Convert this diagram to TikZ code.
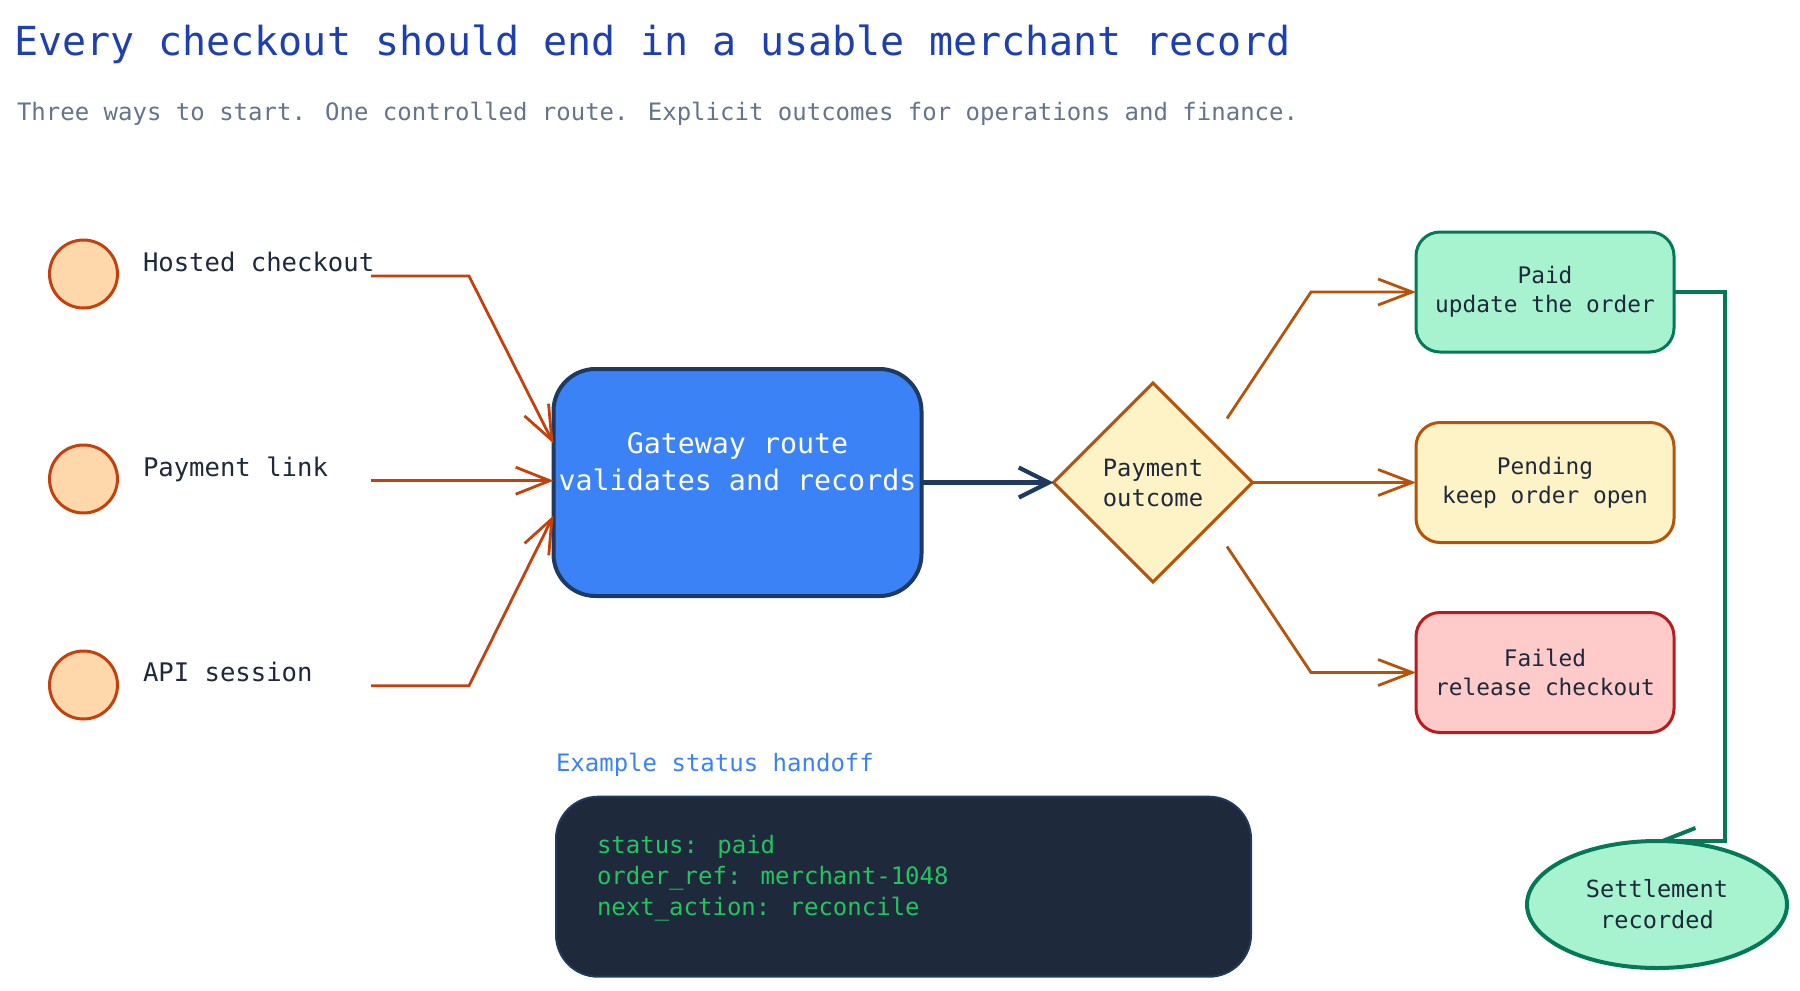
\documentclass[tikz,border=0pt]{standalone}
\usepackage{fontspec}
\setmainfont{DejaVu Sans Mono}
\usetikzlibrary{arrows.meta,shapes.geometric,calc}
\pgfdeclarelayer{bg}
\pgfdeclarelayer{edges}
\pgfsetlayers{bg,edges,main}
\definecolor{cTitle}{HTML}{1E40AF}
\definecolor{cSub}{HTML}{64748B}
\definecolor{cText}{HTML}{1E293B}
\definecolor{cSrc}{HTML}{C2410C}
\definecolor{cSrcFill}{HTML}{FED7AA}
\definecolor{cBlue}{HTML}{3B82F6}
\definecolor{cNavy}{HTML}{1E3A5F}
\definecolor{cAmber}{HTML}{B45309}
\definecolor{cAmberFill}{HTML}{FEF3C7}
\definecolor{cGreen}{HTML}{047857}
\definecolor{cGreenFill}{HTML}{A7F3D0}
\definecolor{cRed}{HTML}{B91C1C}
\definecolor{cRedFill}{HTML}{FECACA}
\definecolor{cCode}{HTML}{1E293B}
\definecolor{cCodeText}{HTML}{22C55E}
\newcommand\setfs[2]{\fontsize{#1}{#2}\selectfont}
\tikzset{
  every node/.style={inner sep=0pt, outer sep=0pt},
  src/.style={circle, minimum size=68pt, fill=cSrcFill, draw=cSrc, line width=3pt},
  srclabel/.style={anchor=base west, text=cText, font=\setfs{25.6}{30}},
  inarrow/.style={draw=cSrc, line width=2.8pt, line join=miter, -{Straight Barb[length=34pt,width=27pt]}},
  outarrow/.style={draw=cAmber, line width=2.8pt, -{Straight Barb[length=34pt,width=26pt]}},
  mainarrow/.style={draw=cNavy, line width=4.2pt, -{Straight Barb[length=30pt,width=30pt]}},
  greenarrow/.style={draw=cGreen, line width=4pt, -{Straight Barb[length=33pt,width=26pt]}},
  gwbox/.style={rectangle, rounded corners=42pt, minimum width=368pt, minimum height=227pt, fill=cBlue, draw=cNavy, line width=4pt},
  gwtext/.style={anchor=base, align=center, text=white, font=\setfs{28.3}{36.7}},
  decision/.style={diamond, aspect=1, minimum width=199pt, minimum height=199pt, fill=cAmberFill, draw=cAmber, line width=3pt, align=center, text=cText, font=\setfs{23.8}{30}},
  outbox/.style={rectangle, rounded corners=24pt, minimum width=258pt, minimum height=120pt, line width=3pt, align=center, text=cText, font=\setfs{22.8}{29.4}},
  endell/.style={ellipse, minimum width=260pt, minimum height=127pt, fill=cGreenFill, draw=cGreen, line width=4pt, align=center, text=cText, font=\setfs{23.6}{31}},
  codebox/.style={rectangle, rounded corners=42pt, minimum width=695pt, minimum height=180pt, fill=cCode, draw=cNavy, line width=2pt},
  codetext/.style={anchor=base west, align=left, text=cCodeText, font=\setfs{24}{31}},
}
\begin{document}
\begin{tikzpicture}[x=1pt,y=-1pt]
\begin{pgfonlayer}{bg}
\fill[white] (0,0) rectangle (1800,991);
\end{pgfonlayer}
\useasboundingbox (0,0) rectangle (1800,991);

\node[anchor=base west, text=cTitle, font=\setfs{40}{48}] (title) at (14,55) {Every checkout should end in a usable merchant record};
\node[anchor=base west, text=cSub, font=\setfs{24}{30}] (subtitle) at (17,120.5) {Three ways to start. One controlled route. Explicit outcomes for operations and finance.};

% sources
\node[src] (c1) at (83.5,274) {};
\node[src] (c2) at (83.5,479) {};
\node[src] (c3) at (83.5,685) {};
\node[srclabel] (l1) at (143,271) {Hosted checkout};
\node[srclabel] (l2) at (143,476) {Payment link};
\node[srclabel] (l3) at (143,681) {API session};

% gateway
\node[gwbox] (gw) at (737.5,482.5) {};
\node[gwtext] (gwt) at (737.5,490) {Gateway route\\validates and records};

% decision
\node[decision] (dia) at (1153,482.5) {Payment\\outcome};

% outcomes
\node[outbox, fill=cGreenFill, draw=cGreen] (paid) at (1545,292) {Paid\\update the order};
\node[outbox, fill=cAmberFill, draw=cAmber] (pend) at (1545,482.5) {Pending\\keep order open};
\node[outbox, fill=cRedFill, draw=cRed] (fail) at (1545,672.5) {Failed\\release checkout};

\node[endell] (settle) at (1657,904.5) {Settlement\\recorded};

% code example
\node[anchor=base west, text=cBlue, font=\setfs{24}{30}] (exlabel) at (556,771.7) {Example status handoff};
\node[codebox] (code) at (903.5,886.7) {};
\node[codetext] (codet) at (597,915.7) {status: paid\\order\_ref: merchant-1048\\next\_action: reconcile};

% left connectors
\coordinate (s1) at (371,276);
\coordinate (s2) at (371,480.7);
\coordinate (s3) at (371,685.7);
\coordinate (b1) at (469,276);
\coordinate (b3) at (469,685.7);
\draw[inarrow] (s1) -- (b1) -- ($(gw.west)+(0,-39)$);
\draw[inarrow] (s2) -- (s2 -| gw.west);
\draw[inarrow] (s3) -- (b3) -- ($(gw.west)+(0,33)$);

% main arrow
\draw[mainarrow] (gw.east) -- (dia.west);

% outcome connectors
\coordinate (dp) at ($(dia.center)+(74,-64)$);
\coordinate (df) at ($(dia.center)+(74,64)$);
\draw[outarrow] (dp) -- ($(paid.west)+(-105,0)$) -- (paid.west);
\draw[outarrow] (dia.east) -- (pend.west);
\draw[outarrow] (df) -- ($(fail.west)+(-105,0)$) -- (fail.west);

% settlement connector (under the ellipse)
\begin{pgfonlayer}{edges}
\draw[greenarrow] (paid.east) -- ++(51,0) coordinate (g1) -- (g1 |- settle.north) -- (settle.north);
\end{pgfonlayer}
\end{tikzpicture}
\end{document}
